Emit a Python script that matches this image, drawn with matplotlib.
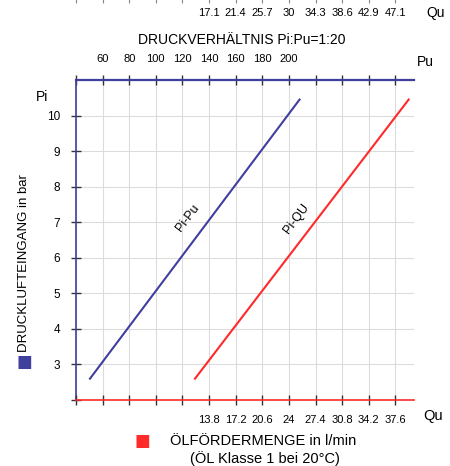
import numpy as np
import matplotlib
matplotlib.use("Agg")
import matplotlib.pyplot as plt

# data
pu_ticks = [40, 60, 80, 100, 120, 140, 160, 180, 200, 220, 240, 260, 280]
pu_labels = ["", "60", "80", "100", "120", "140", "160", "180", "200", "", "", "", ""]
qu_top_labels = ["", "", "", "", "", "17.1", "21.4", "25.7", "30", "34.3", "38.6", "42.9", "47.1"]
qu_bot_ticks = [-3.2, 0.2, 3.6, 7.0, 10.4, 13.8, 17.2, 20.6, 24.0, 27.4, 30.8, 34.2, 37.6]
qu_bot_labels = ["", "", "", "", "", "13.8", "17.2", "20.6", "24", "27.4", "30.8", "34.2", "37.6"]
pi_ticks = [2, 3, 4, 5, 6, 7, 8, 9, 10]
pi_labels = ["", "3", "4", "5", "6", "7", "8", "9", "10"]

# Pi-Pu line (blue) and Pi-Qu line (red)
pu_line = [50.5, 208.0]
pi_pu_line = [2.6, 10.45]
qu_line = [12.0, 39.3]
pi_qu_line = [2.6, 10.45]

blue = "#3f3f9e"
red = "#ff2a2a"
tickc = "#333333"
plt.rcParams["font.family"] = ["Liberation Sans", "DejaVu Sans"]

fig = plt.figure(figsize=(4.5, 4.66), dpi=100)
ax = fig.add_axes([76 / 450, 66 / 466, 338 / 450, 320 / 466])
ax.set_xlim(40, 294)
ax.set_ylim(2, 11)

# red Qu axis at bottom (twiny first, it moves ax ticks around)
ax2 = ax.twiny()
ax2.set_xlim(-3.2, -3.2 + 3.4 * 12.7)
ax2.xaxis.tick_bottom()
ax2.set_xticks(qu_bot_ticks)
ax2.set_xticklabels(qu_bot_labels)
ax2.tick_params(axis="x", direction="inout", length=7, width=1, color=tickc,
                labelsize=8, pad=7)
for s in ["top", "right", "left"]:
    ax2.spines[s].set_visible(False)
ax2.spines["bottom"].set_color(red)
ax2.spines["bottom"].set_linewidth(1.2)
ax2.plot(qu_line, pi_qu_line, color=red, linewidth=1.5)

ax.set_xticks(pu_ticks)
ax.set_xticklabels(pu_labels)
ax.set_yticks(pi_ticks)
ax.set_yticklabels(pi_labels)
ax.grid(True, color="#dcdcdc", linewidth=0.8)
ax.xaxis.tick_top()
ax.tick_params(axis="x", direction="inout", length=7, width=1, color=tickc,
               labelsize=8, pad=8)
ax.tick_params(axis="y", direction="inout", length=7, width=1, color=tickc,
               labelsize=8.5, pad=8)

ax.spines["right"].set_visible(False)
ax.spines["bottom"].set_visible(False)
ax.spines["top"].set_color(blue)
ax.spines["top"].set_linewidth(1.6)
ax.spines["left"].set_color(blue)
ax.spines["left"].set_linewidth(1.2)

ax.plot(pu_line, pi_pu_line, color=blue, linewidth=1.5)

# top Qu labels row
sec = ax.secondary_xaxis(1.19)
sec.set_xticks(pu_ticks)
sec.set_xticklabels(qu_top_labels)
sec.tick_params(length=0, labelsize=8, pad=1)
sec.spines["top"].set_visible(False)

# cut-off tick row at the very top edge
sec2 = ax.secondary_xaxis(1.25)
sec2.set_xticks(pu_ticks)
sec2.set_xticklabels([""] * len(pu_ticks))
sec2.tick_params(length=4, direction="inout", color="#888888")
sec2.spines["top"].set_visible(False)

# line labels
ax.text(124, 7.13, "Pi-Pu", rotation=53, ha="center", va="center", fontsize=9)
ax2.text(25.0, 7.1, "Pi-QU", rotation=53, ha="center", va="center", fontsize=9)

# axis texts
fig.text(436 / 450, 1 - 13 / 466, "Qu", ha="center", va="center", fontsize=10)
fig.text(425 / 450, 1 - 62 / 466, "Pu", ha="center", va="center", fontsize=10)
fig.text(433 / 450, 1 - 416 / 466, "Qu", ha="center", va="center", fontsize=10.5)
fig.text(42 / 450, 1 - 97 / 466, "Pi", ha="center", va="center", fontsize=10)
fig.text(242 / 450, 1 - 40 / 466, "DRUCKVERHÄLTNIS Pi:Pu=1:20", ha="center",
         va="center", fontsize=10)

fig.text(24 / 450, 1 - 362 / 466, "■", color=blue, ha="center", va="center",
         fontsize=12, family="DejaVu Sans")
fig.text(24 / 450, 1 - 352 / 466, "DRUCKLUFTEINGANG in bar", rotation=90,
         ha="center", va="bottom", fontsize=9.5)

fig.text(142 / 450, 1 - 441 / 466, "■", color=red, ha="center", va="center",
         fontsize=12, family="DejaVu Sans")
fig.text(170 / 450, 1 - 441 / 466, "ÖLFÖRDERMENGE in l/min", ha="left",
         va="center", fontsize=10.5)
fig.text(265 / 450, 1 - 459 / 466, "(ÖL Klasse 1 bei 20°C)", ha="center",
         va="center", fontsize=10.5)

fig.savefig("out.png", dpi=100)
